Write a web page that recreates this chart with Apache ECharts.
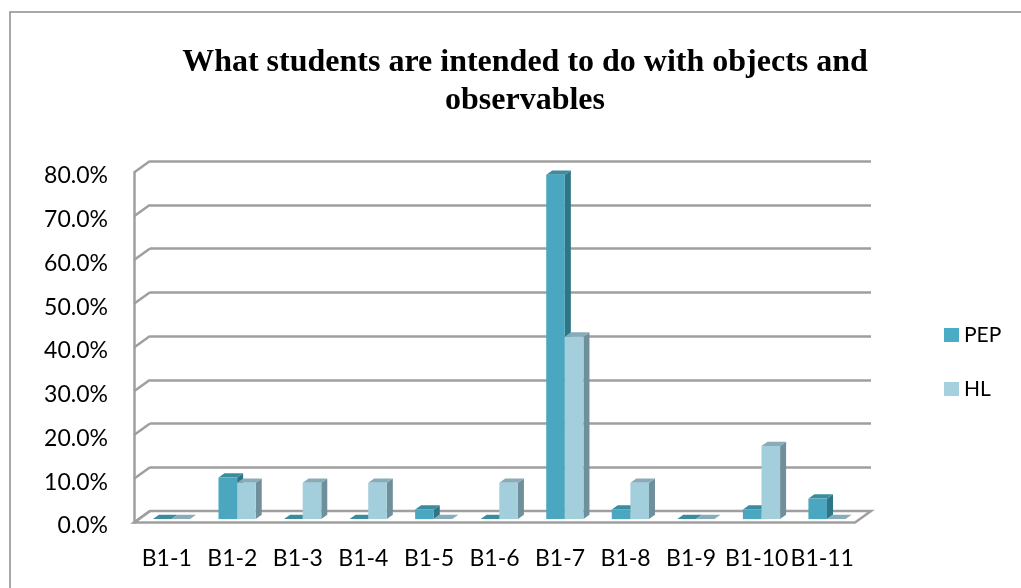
<!DOCTYPE html>
<html>
<head>
<meta charset="utf-8">
<script src="https://cdn.jsdelivr.net/npm/echarts@6/dist/echarts.min.js"></script>
<style>html,body{margin:0;padding:0;background:#fff;}#c{width:1021px;height:588px;}</style>
</head>
<body>
<div id="c"></div>
<script>
// ---- data ----
const categories = ['B1-1','B1-2','B1-3','B1-4','B1-5','B1-6','B1-7','B1-8','B1-9','B1-10','B1-11'];
const pepValues = [0, 9.5, 0, 0, 2.2, 0, 78.7, 2.2, 0, 2.2, 4.7];
const hlValues  = [0, 8.3, 8.3, 8.3, 0, 8.3, 41.7, 8.3, 0, 16.7, 0];
const yTicks = [0, 10, 20, 30, 40, 50, 60, 70, 80];
const titleText = 'What students are intended to do with objects and\nobservables';

// ---- style ----
const LABEL_FONT = "'Lato', sans-serif";
const GRID_COLOR = '#9f9f9f';
const WALL_DX = 16, WALL_DY = -11.5;   // depth of floor/back wall
const BAR_DX = 4.8, BAR_DY = -3.4;     // bar row position inside depth
const BD_X = 6, BD_Y = -4.3;           // bar own depth
const PEP_COL = {legend:'#4bacc6', front:'#4aa7bf', top:'#3a8c9f', side:'#2e7585'};
const HL_COL  = {legend:'#a5d0dd', front:'#a3cfdc', top:'#88acb9', side:'#6f8f9b'};

function barItem(params, api, left, col) {
  const i = api.value(0), v = api.value(1);
  const base = api.coord([i, 0]);
  const top = api.coord([i, v]);
  const band = api.size([1, 0])[0];
  const w = band * 0.284;
  const cx = base[0] + BAR_DX;
  const x0 = left ? cx - w : cx, x1 = x0 + w;
  const yb = base[1] + BAR_DY, yt = top[1] + BAR_DY;
  return {
    type: 'group',
    children: [
      {type:'polygon', shape:{points:[[x1,yt],[x1+BD_X,yt+BD_Y],[x1+BD_X,yb+BD_Y],[x1,yb]]}, style:{fill:col.side}},
      {type:'polygon', shape:{points:[[x0,yt],[x1,yt],[x1+BD_X,yt+BD_Y],[x0+BD_X,yt+BD_Y]]}, style:{fill:col.top}},
      {type:'rect', shape:{x:x0, y:yt, width:w, height:Math.max(0, yb-yt)}, style:{fill:col.front}}
    ]
  };
}

const chart = echarts.init(document.getElementById('c'), null, {renderer:'canvas'});
chart.setOption({
  animation: false,
  backgroundColor: '#fff',
  graphic: [{
    type: 'rect', silent: true, z: 0,
    shape: {x: 10, y: 12, width: 1030, height: 600},
    style: {fill: 'none', stroke: '#8c8c8c', lineWidth: 1.5}
  }],
  title: {
    text: titleText,
    left: 520, top: 39, textAlign: 'center',
    textStyle: {fontFamily: "'Liberation Serif', 'Times New Roman', serif", fontWeight: 'bold', fontSize: 32, lineHeight: 38, color: '#000'}
  },
  legend: {
    data: ['PEP', 'HL'],
    orient: 'vertical', left: 939, top: 319,
    icon: 'rect', itemWidth: 15, itemHeight: 14, itemGap: 32,
    textStyle: {fontFamily: LABEL_FONT, fontSize: 21, lineHeight: 22, color: '#000', padding: [0,0,0,0]}
  },
  grid: [
    {left: 134, right: 166, top: 172.5, bottom: 65.5},
    {left: 150, right: 150, top: 161, bottom: 77}
  ],
  xAxis: [
    {type: 'category', gridIndex: 0, data: categories, boundaryGap: true,
     axisLine: {show: false}, axisTick: {show: false},
     axisLabel: {interval: 0, hideOverlap: false, margin: 25, fontFamily: LABEL_FONT, fontSize: 23, color: '#000'}},
    {type: 'category', gridIndex: 1, data: categories, show: false}
  ],
  yAxis: [
    {type: 'value', gridIndex: 0, min: 0, max: 80, interval: 10,
     axisLine: {show: true, lineStyle: {color: GRID_COLOR, width: 2.5}},
     axisTick: {show: false}, splitLine: {show: false},
     axisLabel: {margin: 26, fontFamily: LABEL_FONT, fontSize: 23, color: '#000', verticalAlign: 'top', lineHeight: 7,
                 formatter: v => v.toFixed(1) + '%'}},
    {type: 'value', gridIndex: 1, min: 0, max: 80, interval: 10,
     axisLine: {show: false}, axisTick: {show: false}, axisLabel: {show: false},
     splitLine: {show: true, lineStyle: {color: GRID_COLOR, width: 2.5}}}
  ],
  series: [
    { // floor
      type: 'custom', xAxisIndex: 0, yAxisIndex: 0, z: 1, silent: true,
      data: [[0, 0]],
      renderItem: function (params) {
        const c = params.coordSys;
        const yb = c.y + c.height;
        return {type: 'polygon', shape: {points: [[c.x, yb], [c.x + c.width, yb], [c.x + c.width + WALL_DX, yb + WALL_DY], [c.x + WALL_DX, yb + WALL_DY]]},
                style: {fill: '#fff', stroke: GRID_COLOR, lineWidth: 2.5}};
      }
    },
    { // wall depth connectors
      type: 'custom', xAxisIndex: 0, yAxisIndex: 0, z: 1, silent: true,
      data: yTicks.map(t => [0, t]),
      renderItem: function (params, api) {
        const c = params.coordSys;
        const y = api.coord([0, api.value(1)])[1];
        return {type: 'line', shape: {x1: c.x, y1: y, x2: c.x + WALL_DX, y2: y + WALL_DY},
                style: {stroke: GRID_COLOR, lineWidth: 2.5}};
      }
    },
    {
      name: 'PEP', type: 'custom', xAxisIndex: 0, yAxisIndex: 0, z: 3,
      itemStyle: {color: PEP_COL.legend},
      data: pepValues.map((v, i) => [i, v]),
      encode: {x: 0, y: 1},
      renderItem: (p, api) => barItem(p, api, true, PEP_COL)
    },
    {
      name: 'HL', type: 'custom', xAxisIndex: 0, yAxisIndex: 0, z: 4,
      itemStyle: {color: HL_COL.legend},
      data: hlValues.map((v, i) => [i, v]),
      encode: {x: 0, y: 1},
      renderItem: (p, api) => barItem(p, api, false, HL_COL)
    }
  ]
});
</script>
</body>
</html>
